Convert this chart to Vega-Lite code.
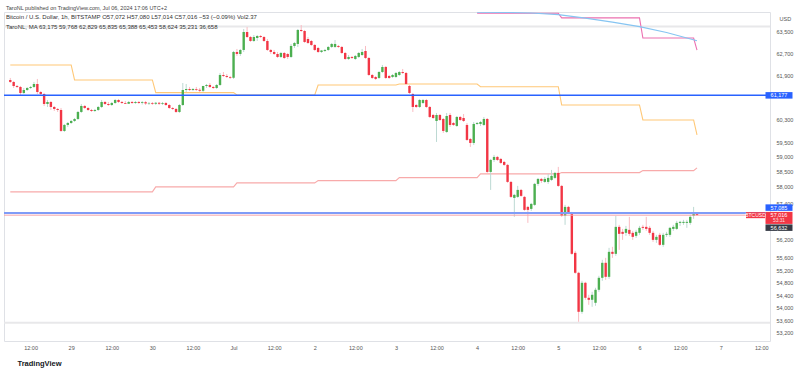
{
"$schema": "https://vega.github.io/schema/vega-lite/v6.json",
"width": 766, "height": 329,
"autosize": {"type": "none"},
"padding": {"left": 4, "top": 12, "right": 30, "bottom": 29},
"background": "white",
"config": {"view": {"stroke": "#dfe1e6", "strokeWidth": 1}, "font": "Liberation Sans",
 "axisY": {"orient": "right", "format": ",d", "labelFontSize": 5.5, "labelColor": "#555", "labelPadding": 6, "ticks": false, "domain": false, "grid": false, "labelOverlap": false, "labelBound": false, "labelFlush": false, "titleAngle": 0, "titleFontSize": 5.5, "titleFontWeight": "normal", "titleColor": "#555", "titleX": 9, "titleY": 6, "titleAlign": "left", "titleBaseline": "middle"},
 "axisX": {"labelFontSize": 5.5, "labelColor": "#555", "labelPadding": 4, "ticks": false, "domain": false, "grid": false, "labelOverlap": false, "labelFlush": false, "labelBound": false, "titleAnchor": "start", "titleAlign": "left", "titleX": 13, "titleY": 22, "titleBaseline": "middle", "titleFontSize": 7.5, "titleFontWeight": "bold", "titleColor": "#131722"}},
"title": {"text": "TaroNL published on TradingView.com, Jul 06, 2024 17:06 UTC+2", "subtitle": ["Bitcoin / U.S. Dollar, 1h, BITSTAMP   O57,072  H57,080  L57,014  C57,016  −53 (−0.09%)  Vol2.37", "TaroNL, MA   63,175   59,768   62,829   65,835   65,388   65,453   58,624   35,231   36,658"], "anchor": "start", "frame": "group", "offset": -18, "fontSize": 5.5, "fontWeight": "normal", "color": "#444", "subtitleFontSize": 6, "subtitleColor": "#333", "subtitleLineHeight": 10, "subtitlePadding": 3, "font": "Liberation Sans", "subtitleFont": "Liberation Sans", "dx": 2},
"datasets": {
"c": [
{"t":6,"o":61733,"hi":61806,"lo":61624,"c":61661},{"t":7,"o":61661,"hi":61697,"lo":61443,"c":61516},{"t":8,"o":61516,"hi":61552,"lo":61443,"c":61480},{"t":9,"o":61480,"hi":61516,"lo":61191,"c":61263},{"t":10,"o":61263,"hi":61443,"lo":61227,"c":61371},{"t":11,"o":61371,"hi":61480,"lo":61335,"c":61443},{"t":12,"o":61443,"hi":61516,"lo":61407,"c":61480},{"t":13,"o":61480,"hi":61661,"lo":61443,"c":61588},{"t":14,"o":61588,"hi":61770,"lo":61227,"c":61299},{"t":15,"o":61299,"hi":61335,"lo":61191,"c":61227},
{"t":16,"o":61227,"hi":61263,"lo":60797,"c":60868},{"t":17,"o":60868,"hi":61011,"lo":60761,"c":60940},{"t":18,"o":60940,"hi":60975,"lo":60654,"c":60761},{"t":19,"o":60761,"hi":60797,"lo":60618,"c":60690},{"t":20,"o":60690,"hi":60725,"lo":60583,"c":60654},{"t":21,"o":60654,"hi":60725,"lo":59875,"c":59910},{"t":22,"o":59910,"hi":60157,"lo":59875,"c":60122},{"t":23,"o":60122,"hi":60227,"lo":60051,"c":60192},{"t":24,"o":60192,"hi":60298,"lo":60157,"c":60263},{"t":25,"o":60263,"hi":60369,"lo":60227,"c":60334},
{"t":26,"o":60334,"hi":60618,"lo":60298,"c":60583},{"t":27,"o":60583,"hi":60868,"lo":60547,"c":60797},{"t":28,"o":60797,"hi":60832,"lo":60690,"c":60725},{"t":29,"o":60725,"hi":60761,"lo":60618,"c":60654},{"t":30,"o":60654,"hi":60690,"lo":60583,"c":60618},{"t":31,"o":60618,"hi":60690,"lo":60583,"c":60654},{"t":32,"o":60654,"hi":60797,"lo":60618,"c":60761},{"t":33,"o":60761,"hi":61011,"lo":60725,"c":60940},{"t":34,"o":60940,"hi":60975,"lo":60832,"c":60868},{"t":35,"o":60868,"hi":60940,"lo":60797,"c":60832},
{"t":36,"o":60832,"hi":60940,"lo":60797,"c":60904},{"t":37,"o":60904,"hi":61047,"lo":60868,"c":61011},{"t":38,"o":61011,"hi":61047,"lo":60904,"c":60940},{"t":39,"o":60940,"hi":60975,"lo":60868,"c":60904},{"t":40,"o":60904,"hi":60975,"lo":60868,"c":60875},{"t":41,"o":60875,"hi":60975,"lo":60868,"c":60940},{"t":42,"o":60940,"hi":60975,"lo":60868,"c":60904},{"t":43,"o":60904,"hi":60975,"lo":60868,"c":60940},{"t":44,"o":60940,"hi":60975,"lo":60868,"c":60904},{"t":45,"o":60904,"hi":60975,"lo":60850,"c":60933},
{"t":46,"o":60933,"hi":60975,"lo":60832,"c":60886},{"t":47,"o":60886,"hi":60940,"lo":60832,"c":60904},{"t":48,"o":60904,"hi":60940,"lo":60832,"c":60875},{"t":49,"o":60875,"hi":60940,"lo":60832,"c":60911},{"t":50,"o":60911,"hi":60940,"lo":60832,"c":60875},{"t":51,"o":60875,"hi":60940,"lo":60832,"c":60904},{"t":52,"o":60904,"hi":60940,"lo":60797,"c":60832},{"t":53,"o":60832,"hi":60868,"lo":60690,"c":60725},{"t":54,"o":60725,"hi":60761,"lo":60654,"c":60690},{"t":55,"o":60690,"hi":60725,"lo":60547,"c":60583},
{"t":56,"o":60583,"hi":60868,"lo":60547,"c":60832},{"t":57,"o":60832,"hi":61624,"lo":60797,"c":61371},{"t":58,"o":61371,"hi":61588,"lo":61299,"c":61407},{"t":59,"o":61407,"hi":61480,"lo":61335,"c":61371},{"t":60,"o":61371,"hi":61443,"lo":61335,"c":61407},{"t":61,"o":61407,"hi":61480,"lo":61335,"c":61378},{"t":62,"o":61378,"hi":61443,"lo":61299,"c":61342},{"t":63,"o":61342,"hi":61516,"lo":61299,"c":61516},{"t":64,"o":61516,"hi":61588,"lo":61443,"c":61552},{"t":65,"o":61552,"hi":61624,"lo":61443,"c":61480},
{"t":66,"o":61480,"hi":61516,"lo":61407,"c":61443},{"t":67,"o":61443,"hi":61588,"lo":61407,"c":61552},{"t":68,"o":61552,"hi":61988,"lo":61516,"c":61915},{"t":69,"o":61915,"hi":62024,"lo":61842,"c":61879},{"t":70,"o":61879,"hi":61951,"lo":61806,"c":61842},{"t":71,"o":61842,"hi":61879,"lo":61770,"c":61813},{"t":72,"o":61813,"hi":62795,"lo":61770,"c":62758},{"t":73,"o":62758,"hi":62869,"lo":62611,"c":62684},{"t":74,"o":62684,"hi":62869,"lo":62611,"c":62832},{"t":75,"o":62832,"hi":63612,"lo":62758,"c":63500},
{"t":76,"o":63500,"hi":63687,"lo":63276,"c":63313},{"t":77,"o":63313,"hi":63350,"lo":63128,"c":63165},{"t":78,"o":63165,"hi":63388,"lo":63128,"c":63313},{"t":79,"o":63276,"hi":63388,"lo":63165,"c":63350},{"t":80,"o":63350,"hi":63388,"lo":63276,"c":63313},{"t":81,"o":63313,"hi":63350,"lo":63128,"c":63165},{"t":82,"o":63165,"hi":63239,"lo":62795,"c":62832},{"t":83,"o":62832,"hi":62869,"lo":62684,"c":62758},{"t":84,"o":62758,"hi":62832,"lo":62647,"c":62684},{"t":85,"o":62684,"hi":62758,"lo":62537,"c":62574},
{"t":86,"o":62574,"hi":62758,"lo":62537,"c":62721},{"t":87,"o":62721,"hi":62758,"lo":62500,"c":62537},{"t":88,"o":62684,"hi":62721,"lo":62500,"c":62574},{"t":89,"o":62574,"hi":63054,"lo":62537,"c":62980},{"t":90,"o":62980,"hi":63128,"lo":62906,"c":63091},{"t":91,"o":63054,"hi":63612,"lo":62943,"c":63575},{"t":92,"o":63575,"hi":63761,"lo":63500,"c":63537},{"t":93,"o":63537,"hi":63575,"lo":63091,"c":63128},{"t":94,"o":63239,"hi":63313,"lo":63054,"c":63091},{"t":95,"o":63165,"hi":63202,"lo":62980,"c":63017},
{"t":96,"o":63017,"hi":63054,"lo":62795,"c":62832},{"t":97,"o":62906,"hi":62943,"lo":62721,"c":62758},{"t":98,"o":62758,"hi":62832,"lo":62721,"c":62813},{"t":99,"o":62795,"hi":62869,"lo":62758,"c":62832},{"t":100,"o":62832,"hi":62980,"lo":62795,"c":62943},{"t":101,"o":62943,"hi":63091,"lo":62906,"c":63054},{"t":102,"o":62943,"hi":63202,"lo":62906,"c":63054},{"t":103,"o":62980,"hi":63017,"lo":62906,"c":62943},{"t":104,"o":62943,"hi":62980,"lo":62684,"c":62721},{"t":105,"o":62721,"hi":62758,"lo":62463,"c":62500},
{"t":106,"o":62500,"hi":62647,"lo":62463,"c":62574},{"t":107,"o":62574,"hi":62611,"lo":62500,"c":62537},{"t":108,"o":62500,"hi":62647,"lo":62463,"c":62611},{"t":109,"o":62574,"hi":62758,"lo":62537,"c":62721},{"t":110,"o":62647,"hi":62869,"lo":62611,"c":62758},{"t":111,"o":62795,"hi":62980,"lo":62500,"c":62537},{"t":112,"o":62537,"hi":62574,"lo":61879,"c":61915},{"t":113,"o":61915,"hi":61951,"lo":61770,"c":61806},{"t":114,"o":61842,"hi":61879,"lo":61733,"c":61770},{"t":115,"o":61806,"hi":62061,"lo":61770,"c":62024},
{"t":116,"o":62024,"hi":62280,"lo":61988,"c":62207},{"t":117,"o":62207,"hi":62243,"lo":61770,"c":61806},{"t":118,"o":61879,"hi":61915,"lo":61770,"c":61806},{"t":119,"o":61842,"hi":61951,"lo":61806,"c":61915},{"t":120,"o":61842,"hi":62024,"lo":61806,"c":61988},{"t":121,"o":61915,"hi":62061,"lo":61879,"c":62024},{"t":122,"o":62024,"hi":62134,"lo":61951,"c":61988},{"t":123,"o":61988,"hi":62024,"lo":61552,"c":61588},{"t":124,"o":61516,"hi":61552,"lo":61227,"c":61263},{"t":125,"o":61227,"hi":61263,"lo":60583,"c":60761},
{"t":126,"o":60832,"hi":60868,"lo":60725,"c":60761},{"t":127,"o":60761,"hi":61047,"lo":60725,"c":61011},{"t":128,"o":60904,"hi":61047,"lo":60868,"c":61011},{"t":129,"o":61011,"hi":61047,"lo":60725,"c":60761},{"t":130,"o":60761,"hi":60797,"lo":60369,"c":60405},{"t":131,"o":60476,"hi":60511,"lo":60334,"c":60369},{"t":132,"o":60263,"hi":60547,"lo":59524,"c":60476},{"t":133,"o":60476,"hi":60511,"lo":60263,"c":60298},{"t":134,"o":60334,"hi":60369,"lo":59840,"c":59910},{"t":135,"o":59875,"hi":60547,"lo":59840,"c":60440},
{"t":136,"o":60476,"hi":60547,"lo":60051,"c":60122},{"t":137,"o":60192,"hi":60227,"lo":60086,"c":60122},{"t":138,"o":60086,"hi":60440,"lo":60051,"c":60405},{"t":139,"o":60405,"hi":60440,"lo":60263,"c":60298},{"t":140,"o":60369,"hi":60511,"lo":60227,"c":60263},{"t":141,"o":60122,"hi":60192,"lo":59559,"c":59594},{"t":142,"o":59629,"hi":59664,"lo":59350,"c":59489},{"t":143,"o":59489,"hi":60227,"lo":59420,"c":60157},{"t":144,"o":60157,"hi":60227,"lo":60122,"c":60192},{"t":145,"o":60157,"hi":60263,"lo":60086,"c":60227},
{"t":146,"o":60122,"hi":60405,"lo":60086,"c":60334},{"t":147,"o":60334,"hi":60369,"lo":58450,"c":58484},{"t":148,"o":58484,"hi":58933,"lo":57869,"c":58898},{"t":149,"o":58898,"hi":59072,"lo":58829,"c":59002},{"t":150,"o":59002,"hi":59037,"lo":58864,"c":58898},{"t":151,"o":58933,"hi":58967,"lo":58760,"c":58795},{"t":152,"o":58829,"hi":58864,"lo":58691,"c":58726},{"t":153,"o":58726,"hi":58760,"lo":58108,"c":58142},{"t":154,"o":58142,"hi":58176,"lo":57598,"c":57632},{"t":155,"o":57598,"hi":57733,"lo":56959,"c":57700},
{"t":156,"o":57632,"hi":58005,"lo":57598,"c":57869},{"t":157,"o":57869,"hi":57903,"lo":57632,"c":57666},{"t":158,"o":57632,"hi":57666,"lo":57160,"c":57193},{"t":159,"o":57294,"hi":57328,"lo":56758,"c":57193},{"t":160,"o":57227,"hi":57429,"lo":57160,"c":57395},{"t":161,"o":57362,"hi":58108,"lo":57328,"c":58074},{"t":162,"o":58074,"hi":58279,"lo":58005,"c":58244},{"t":163,"o":58244,"hi":58279,"lo":58108,"c":58176},{"t":164,"o":58142,"hi":58313,"lo":58108,"c":58244},{"t":165,"o":58142,"hi":58416,"lo":58074,"c":58279},
{"t":166,"o":58210,"hi":58553,"lo":58176,"c":58347},{"t":167,"o":58279,"hi":58484,"lo":58244,"c":58450},{"t":168,"o":58450,"hi":58657,"lo":57971,"c":58005},{"t":169,"o":58005,"hi":58040,"lo":56959,"c":56992},{"t":170,"o":56992,"hi":57362,"lo":56692,"c":57294},{"t":171,"o":57294,"hi":57328,"lo":57059,"c":57093},{"t":172,"o":57093,"hi":57126,"lo":55702,"c":55734},{"t":173,"o":55767,"hi":55832,"lo":55083,"c":55116},{"t":174,"o":55116,"hi":55148,"lo":53551,"c":53867},{"t":175,"o":53867,"hi":54857,"lo":53804,"c":54793},
{"t":176,"o":54793,"hi":54825,"lo":54248,"c":54312},{"t":177,"o":54312,"hi":54408,"lo":54089,"c":54248},{"t":178,"o":54248,"hi":54504,"lo":54025,"c":54408},{"t":179,"o":54153,"hi":54632,"lo":54057,"c":54568},{"t":180,"o":54568,"hi":55019,"lo":54504,"c":54954},{"t":181,"o":54954,"hi":55538,"lo":54857,"c":55441},{"t":182,"o":55441,"hi":55603,"lo":54889,"c":54986},{"t":183,"o":54986,"hi":55931,"lo":54921,"c":55800},{"t":184,"o":55800,"hi":55964,"lo":55603,"c":55734},{"t":185,"o":55734,"hi":56992,"lo":55669,"c":56625},
{"t":186,"o":56625,"hi":56692,"lo":55865,"c":56393},{"t":187,"o":56459,"hi":56558,"lo":56194,"c":56393},{"t":188,"o":56426,"hi":56658,"lo":56327,"c":56558},{"t":189,"o":56525,"hi":56959,"lo":56327,"c":56393},{"t":190,"o":56426,"hi":56492,"lo":56194,"c":56293},{"t":191,"o":56327,"hi":56525,"lo":56260,"c":56459},{"t":192,"o":56426,"hi":56658,"lo":56360,"c":56592},{"t":193,"o":56625,"hi":56692,"lo":56525,"c":56592},{"t":194,"o":56625,"hi":56959,"lo":56492,"c":56558},{"t":195,"o":56592,"hi":56658,"lo":56360,"c":56426},
{"t":196,"o":56426,"hi":56492,"lo":56128,"c":56194},{"t":197,"o":56194,"hi":56360,"lo":56095,"c":56293},{"t":198,"o":56360,"hi":56426,"lo":55997,"c":56030},{"t":199,"o":56030,"hi":56426,"lo":55964,"c":56360},{"t":200,"o":56360,"hi":56459,"lo":56293,"c":56393},{"t":201,"o":56360,"hi":56625,"lo":56293,"c":56592},{"t":202,"o":56558,"hi":56692,"lo":56492,"c":56625},{"t":203,"o":56558,"hi":56825,"lo":56525,"c":56758},{"t":204,"o":56758,"hi":56825,"lo":56658,"c":56792},{"t":205,"o":56758,"hi":56858,"lo":56692,"c":56792},
{"t":206,"o":56758,"hi":56858,"lo":56592,"c":56792},{"t":207,"o":56758,"hi":57026,"lo":56692,"c":56959},{"t":208,"o":56992,"hi":57294,"lo":56892,"c":57070},{"t":209,"o":57072,"hi":57080,"lo":57014,"c":57016}
],
"ma": [
{"t":6,"v":62280,"s":"o"},{"t":24,"v":62280,"s":"o"},{"t":25,"v":61733,"s":"o"},{"t":48,"v":61733,"s":"o"},{"t":49,"v":61274,"s":"o"},{"t":72,"v":61274,"s":"o"},{"t":73,"v":61190,"s":"o"},{"t":96,"v":61190,"s":"o"},{"t":97,"v":61552,"s":"o"},{"t":120,"v":61552,"s":"o"},{"t":121,"v":61588,"s":"o"},{"t":144,"v":61588,"s":"o"},{"t":145,"v":61490,"s":"o"},{"t":168,"v":61490,"s":"o"},{"t":169,"v":60832,"s":"o"},{"t":192,"v":60832,"s":"o"},{"t":193,"v":60298,"s":"o"},{"t":208,"v":60298,"s":"o"},{"t":209,"v":59768,"s":"o"},
{"t":6,"v":57801,"s":"r"},{"t":48,"v":57801,"s":"r"},{"t":49,"v":57971,"s":"r"},{"t":72,"v":57971,"s":"r"},{"t":73,"v":58108,"s":"r"},{"t":96,"v":58108,"s":"r"},{"t":97,"v":58186,"s":"r"},{"t":120,"v":58186,"s":"r"},{"t":121,"v":58289,"s":"r"},{"t":144,"v":58289,"s":"r"},{"t":145,"v":58416,"s":"r"},{"t":168,"v":58416,"s":"r"},{"t":169,"v":58461,"s":"r"},{"t":192,"v":58461,"s":"r"},{"t":193,"v":58529,"s":"r"},{"t":208,"v":58529,"s":"r"},{"t":209,"v":58624,"s":"r"},
{"t":144,"v":64200,"s":"p"},{"t":168,"v":64200,"s":"p"},{"t":169,"v":64030,"s":"p"},{"t":192,"v":64030,"s":"p"},{"t":193,"v":63276,"s":"p"},{"t":208,"v":63276,"s":"p"},{"t":209,"v":62829,"s":"p"},
{"t":144,"v":64240,"s":"b"},{"t":152,"v":64235,"s":"b"},{"t":160,"v":64215,"s":"b"},{"t":168,"v":64150,"s":"b"},{"t":176,"v":64020,"s":"b"},{"t":184,"v":63870,"s":"b"},{"t":192,"v":63700,"s":"b"},{"t":200,"v":63480,"s":"b"},{"t":209,"v":63175,"s":"b"}
],
"lv": [{"p":63700,"k":"range"},{"p":53520,"k":"range"},{"p":61177,"k":"b1"},{"p":57085,"k":"b2"},{"p":57016,"k":"last"}],
"lb": [{"p":61177,"txt":"61,177","k":"b1"},{"p":57085,"txt":"57,085","k":"b2"},{"p":57016,"txt":"57,016","k":"last"},{"p":57016,"txt":"53:31","k":"cd"},{"p":56632,"txt":"56,632","k":"dark"},{"p":57016,"txt":"BTCUSD","k":"sym"}]
},
"layer": [
{"data": {"name": "lv"}, "transform": [{"filter": "datum.k == 'range'"}],
 "mark": {"type": "rule", "color": "#e8e8ea", "strokeWidth": 2},
 "encoding": {"y": {"field": "p", "type": "quantitative", "title": "USD", "scale": {"type": "log", "domain": [52950, 64250], "nice": false},
   "axis": {"values": [53200,53600,54000,54400,54800,55200,55600,56200,57400,58000,58500,59000,59500,60300,61900,62700,63500]}}}},
{"data": {"name": "ma"},
 "mark": {"type": "line", "strokeWidth": 1.1, "clip": true, "interpolate": "linear"},
 "encoding": {"x": {"field": "t", "type": "quantitative", "title": "TradingView", "scale": {"domain": [5.62, 229.1], "nice": false, "zero": false},
   "axis": {"values": [12,24,36,48,60,72,84,96,108,120,132,144,156,168,180,192,204,216,228], "labelExpr": "datum.value % 24 == 12 ? '12:00' : (datum.value == 72 ? 'Jul' : (datum.value == 24 ? '29' : (datum.value == 48 ? '30' : '' + (datum.value - 48) / 24)))"}},
  "y": {"field": "v", "type": "quantitative", "title": "USD"},
  "color": {"field": "s", "type": "nominal", "scale": {"domain": ["b","o","p","r"], "range": ["#86c5f2","#ffc877","#ec70b0","#f8aaaa"]}, "legend": null}}},
{"data": {"name": "c"},
 "mark": {"type": "rule", "strokeWidth": 1},
 "encoding": {"x": {"field": "t", "type": "quantitative", "title": "TradingView"}, "y": {"field": "lo", "type": "quantitative", "title": "USD"}, "y2": {"field": "hi"},
  "color": {"condition": {"test": "datum.c >= datum.o", "value": "#bcd9d3"}, "value": "#f9bcc2"}}},
{"data": {"name": "c"},
 "mark": {"type": "bar", "width": 2.4},
 "encoding": {"x": {"field": "t", "type": "quantitative", "title": "TradingView"}, "y": {"field": "o", "type": "quantitative", "title": "USD"}, "y2": {"field": "c"},
  "color": {"condition": {"test": "datum.c >= datum.o", "value": "#4caf50"}, "value": "#f23645"}}},
{"data": {"name": "lv"}, "transform": [{"filter": "datum.k == 'b1'"}],
 "mark": {"type": "rule", "color": "#2962ff", "strokeWidth": 1.5},
 "encoding": {"y": {"field": "p", "type": "quantitative", "title": "USD"}}},
{"data": {"name": "lv"}, "transform": [{"filter": "datum.k == 'last'"}],
 "mark": {"type": "rule", "color": "#f5a3ab", "strokeWidth": 1},
 "encoding": {"y": {"field": "p", "type": "quantitative", "title": "USD"}}},
{"data": {"name": "lv"}, "transform": [{"filter": "datum.k == 'b2'"}],
 "mark": {"type": "rule", "color": "#7f9cf7", "strokeWidth": 2},
 "encoding": {"y": {"field": "p", "type": "quantitative", "title": "USD"}}},
{"data": {"name": "lb"}, "transform": [{"filter": "datum.k == 'b1'"}],
 "mark": {"type": "point", "shape": "M-2.7,-0.65H2.7V0.65H-2.7Z", "size": 100, "filled": true, "opacity": 1, "color": "#2962ff", "strokeWidth": 0, "xOffset": 14, "clip": false},
 "encoding": {"x": {"datum": 229.1, "type": "quantitative", "title": "TradingView"}, "y": {"field": "p", "type": "quantitative", "title": "USD"}}},
{"data": {"name": "lb"}, "transform": [{"filter": "datum.k == 'b2'"}],
 "mark": {"type": "point", "shape": "M-2.7,-0.65H2.7V0.65H-2.7Z", "size": 100, "filled": true, "opacity": 1, "color": "#2962ff", "strokeWidth": 0, "xOffset": 14, "yOffset": -5.5, "clip": false},
 "encoding": {"x": {"datum": 229.1, "type": "quantitative", "title": "TradingView"}, "y": {"field": "p", "type": "quantitative", "title": "USD"}}},
{"data": {"name": "lb"}, "transform": [{"filter": "datum.k == 'last'"}],
 "mark": {"type": "point", "shape": "M-2.7,-0.65H2.7V1.75H-2.7Z", "size": 100, "filled": true, "opacity": 1, "color": "#f23645", "strokeWidth": 0, "xOffset": 14, "clip": false},
 "encoding": {"x": {"datum": 229.1, "type": "quantitative", "title": "TradingView"}, "y": {"field": "p", "type": "quantitative", "title": "USD"}}},
{"data": {"name": "lb"}, "transform": [{"filter": "datum.k == 'dark'"}],
 "mark": {"type": "point", "shape": "M-2.7,-0.65H2.7V0.65H-2.7Z", "size": 100, "filled": true, "opacity": 1, "color": "#363a45", "strokeWidth": 0, "xOffset": 14, "yOffset": 1, "clip": false},
 "encoding": {"x": {"datum": 229.1, "type": "quantitative", "title": "TradingView"}, "y": {"field": "p", "type": "quantitative", "title": "USD"}}},
{"data": {"name": "lb"}, "transform": [{"filter": "datum.k == 'sym'"}],
 "mark": {"type": "point", "shape": "M-1.9,-0.6H1.9V0.6H-1.9Z", "size": 100, "filled": true, "opacity": 1, "color": "#f23645", "strokeWidth": 0, "xOffset": -9.5, "clip": false},
 "encoding": {"x": {"datum": 229.1, "type": "quantitative", "title": "TradingView"}, "y": {"field": "p", "type": "quantitative", "title": "USD"}}},
{"data": {"name": "lb"}, "transform": [{"filter": "datum.k == 'b1' || datum.k == 'last'"}],
 "mark": {"type": "text", "color": "white", "fontSize": 5.5, "align": "center", "baseline": "middle", "xOffset": 14, "clip": false},
 "encoding": {"x": {"datum": 229.1, "type": "quantitative", "title": "TradingView"}, "y": {"field": "p", "type": "quantitative", "title": "USD"}, "text": {"field": "txt"}}},
{"data": {"name": "lb"}, "transform": [{"filter": "datum.k == 'dark'"}],
 "mark": {"type": "text", "color": "white", "fontSize": 5.5, "align": "center", "baseline": "middle", "xOffset": 14, "yOffset": 1, "clip": false},
 "encoding": {"x": {"datum": 229.1, "type": "quantitative", "title": "TradingView"}, "y": {"field": "p", "type": "quantitative", "title": "USD"}, "text": {"field": "txt"}}},
{"data": {"name": "lb"}, "transform": [{"filter": "datum.k == 'b2'"}],
 "mark": {"type": "text", "color": "white", "fontSize": 5.5, "align": "center", "baseline": "middle", "xOffset": 14, "yOffset": -5.5, "clip": false},
 "encoding": {"x": {"datum": 229.1, "type": "quantitative", "title": "TradingView"}, "y": {"field": "p", "type": "quantitative", "title": "USD"}, "text": {"field": "txt"}}},
{"data": {"name": "lb"}, "transform": [{"filter": "datum.k == 'cd'"}],
 "mark": {"type": "text", "color": "#fde0e3", "fontSize": 4.8, "align": "center", "baseline": "middle", "xOffset": 14, "yOffset": 6.2, "clip": false},
 "encoding": {"x": {"datum": 229.1, "type": "quantitative", "title": "TradingView"}, "y": {"field": "p", "type": "quantitative", "title": "USD"}, "text": {"field": "txt"}}},
{"data": {"name": "lb"}, "transform": [{"filter": "datum.k == 'sym'"}],
 "mark": {"type": "text", "color": "white", "fontSize": 5, "align": "center", "baseline": "middle", "xOffset": -9.5, "clip": false},
 "encoding": {"x": {"datum": 229.1, "type": "quantitative", "title": "TradingView"}, "y": {"field": "p", "type": "quantitative", "title": "USD"}, "text": {"field": "txt"}}}
]
}
